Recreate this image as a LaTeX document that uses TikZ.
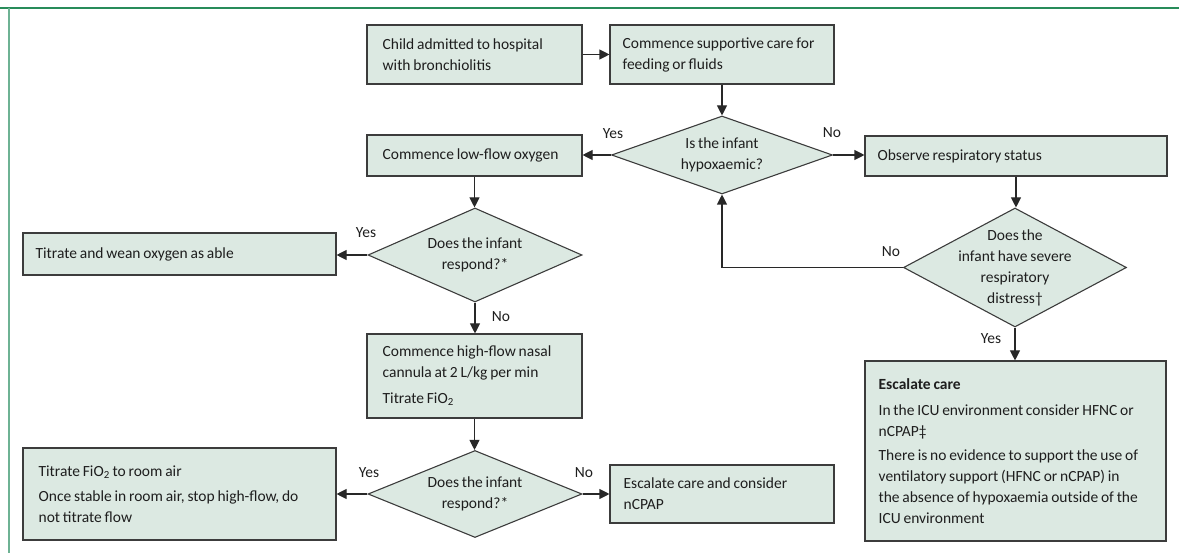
\documentclass[tikz,border=0pt]{standalone}
\usepackage{fontspec}
\setmainfont[WordSpace=0.8]{Carlito}
\usetikzlibrary{shapes.geometric,arrows.meta}
\definecolor{boxfill}{RGB}{220,233,226}
\definecolor{boxline}{RGB}{60,60,60}
\definecolor{arrline}{RGB}{40,40,40}
\definecolor{txtcol}{RGB}{30,30,30}
\definecolor{frametop}{RGB}{40,140,90}
\definecolor{frameleft}{RGB}{110,178,148}
\begin{document}
\begin{tikzpicture}[x=1pt,y=-1pt,
  box/.style={draw=boxline,fill=boxfill,line width=1.1pt,inner sep=0pt},
  btxt/.style={anchor=west,align=left,inner sep=0pt,text=txtcol,font=\fontsize{15.5}{21}\selectfont},
  dia/.style={draw=boxline,fill=boxfill,line width=1.1pt,shape=diamond,inner sep=0pt},
  dtxt/.style={align=center,inner sep=0pt,text=txtcol,font=\fontsize{15.5}{21}\selectfont},
  lbl/.style={inner sep=0pt,text=txtcol,font=\fontsize{15.5}{17}\selectfont},
  arr/.style={draw=arrline,line width=1.1pt,-{Triangle[length=10pt,width=10pt]}}]
\useasboundingbox (0,0) rectangle (1179,553);
\draw[frametop,line width=1.6pt] (0,8) -- (1179,8);
\draw[frameleft,line width=1.4pt] (9,8) -- (9,553);

% boxes
\node[box,minimum width=215pt,minimum height=59pt] (b1) at (474.5,54.5) {};
\node[btxt] (b1t) at ([xshift=16pt]b1.west) {Child admitted to hospital\\with bronchiolitis};
\node[box,minimum width=224pt,minimum height=59pt] (b2) at (722,54.5) {};
\node[btxt] (b2t) at ([xshift=13pt]b2.west) {Commence supportive care for\\feeding or fluids};
\node[box,minimum width=215pt,minimum height=41pt] (lf) at (474.5,155.5) {};
\node[btxt] (lft) at ([xshift=16pt]lf.west) {Commence low-flow oxygen};
\node[box,minimum width=302pt,minimum height=40pt] (obs) at (1016,156) {};
\node[btxt] (obst) at ([xshift=13pt]obs.west) {Observe respiratory status};
\node[box,minimum width=313pt,minimum height=42pt] (wean) at (179.5,254) {};
\node[btxt] (weant) at ([xshift=13pt]wean.west) {Titrate and wean oxygen as able};
\node[box,minimum width=215pt,minimum height=84pt] (hf) at (474.5,376) {};
\node[btxt] (hft) at ([xshift=16pt]hf.west) {Commence high-flow nasal\\cannula at 2 L/kg per min\\[5pt]Titrate FiO\textsubscript{2}};
\node[box,minimum width=224pt,minimum height=58pt] (nc) at (722,494) {};
\node[btxt] (nct) at ([xshift=14pt]nc.west) {Escalate care and consider\\nCPAP};
\node[box,minimum width=313pt,minimum height=92pt] (fio) at (179.5,494) {};
\node[btxt] (fiot) at ([xshift=16pt]fio.west) {Titrate FiO\textsubscript{2} to room air\\[4pt]Once stable in room air, stop high-flow, do\\not titrate flow};
\node[box,minimum width=301pt,minimum height=180pt] (esc) at (1015.5,451) {};
\node[btxt] (esct) at ([xshift=14pt]esc.west) {\textbf{Escalate care}\\[5pt]In the ICU environment consider HFNC or\\nCPAP‡\\[3pt]There is no evidence to support the use of\\ventilatory support (HFNC or nCPAP) in\\the absence of hypoxaemia outside of the\\ICU environment};

% diamonds
\node[dia,minimum width=221pt,minimum height=78pt] (d1) at (722,155) {};
\node[dtxt] (d1t) at (d1.center) {Is the infant\\hypoxaemic?};
\node[dia,minimum width=214pt,minimum height=94pt] (d2) at (475,255) {};
\node[dtxt] (d2t) at (d2.center) {Does the infant\\respond?*};
\node[dia,minimum width=223pt,minimum height=119pt] (d3) at (1015,267.5) {};
\node[dtxt] (d3t) at (d3.center) {Does the\\infant have severe\\respiratory\\distress†};
\node[dia,minimum width=214pt,minimum height=87pt] (d4) at (475,494) {};
\node[dtxt] (d4t) at (d4.center) {Does the infant\\respond?*};

% connectors
\draw[arr] (b1) -- (b2);
\draw[arr] (b2.south) -- (d1.north);
\draw[arr] (d1.west) -- (d1.west -| lf.east);
\draw[arr] (d1.east) -- (d1.east -| obs.west);
\draw[arr] (lf.south) -- (lf.south |- d2.north);
\draw[arr] (d2.west) -- (d2.west -| wean.east);
\draw[arr] (d2.south) -- (d2.south |- hf.north);
\draw[arr] (hf.south) -- (hf.south |- d4.north);
\draw[arr] (d4.west) -- (d4.west -| fio.east);
\draw[arr] (d4.east) -- (d4.east -| nc.west);
\draw[arr] (obs.south) -- (obs.south |- d3.north);
\draw[arr] (d3.west) -| (d1.south);
\draw[arr] (d3.south) -- (d3.south |- esc.north);

% labels
\node[lbl] (y1) at (613,134) {Yes};
\node[lbl] (n1) at (832,133) {No};
\node[lbl] (y2) at (366,233) {Yes};
\node[lbl] (n2) at (501,317) {No};
\node[lbl] (n3) at (891,252) {No};
\node[lbl] (y3) at (991,339) {Yes};
\node[lbl] (n4) at (584,473) {No};
\node[lbl] (y4) at (369,473) {Yes};
\end{tikzpicture}
\end{document}
